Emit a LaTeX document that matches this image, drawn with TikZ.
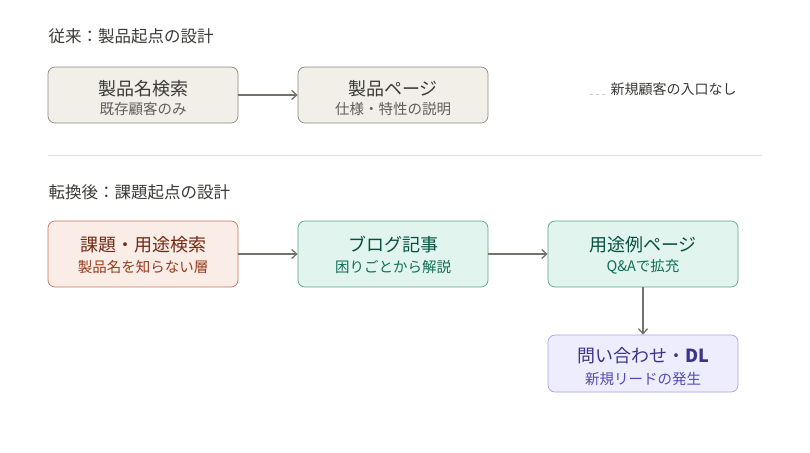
\documentclass[tikz,border=0pt]{standalone}
\usepackage{fontspec}
\setmainfont{Noto Sans CJK JP}
\usetikzlibrary{arrows.meta}
\definecolor{grayfill}{HTML}{F1EFE8}
\definecolor{graystroke}{HTML}{8A8880}
\definecolor{graytext}{HTML}{3A3A38}
\definecolor{graysub}{HTML}{5F5E5A}
\definecolor{coralfill}{HTML}{FAECE7}
\definecolor{coralstroke}{HTML}{C4755B}
\definecolor{coraltext}{HTML}{712B13}
\definecolor{coralsub}{HTML}{993C1D}
\definecolor{tealfill}{HTML}{E1F5EE}
\definecolor{tealstroke}{HTML}{5AA88A}
\definecolor{tealtext}{HTML}{085041}
\definecolor{tealsub}{HTML}{0F6E56}
\definecolor{purpfill}{HTML}{EEEDFE}
\definecolor{purpstroke}{HTML}{A9A3E6}
\definecolor{purptext}{HTML}{3C3489}
\definecolor{purpsub}{HTML}{534AB7}
\definecolor{arrowgray}{HTML}{73726C}
\definecolor{sepgray}{HTML}{E2E1DC}
\tikzset{
  box/.style={rounded corners=7pt, minimum width=190pt, minimum height=56pt, line width=0.7pt},
  tallbox/.style={minimum height=66pt},
  graybox/.style={box, fill=grayfill, draw=graystroke},
  coralbox/.style={box, tallbox, fill=coralfill, draw=coralstroke},
  tealbox/.style={box, tallbox, fill=tealfill, draw=tealstroke},
  purpbox/.style={box, fill=purpfill, draw=purpstroke, minimum height=57pt},
  maintxt/.style={font=\fontsize{18}{20}\selectfont, anchor=center},
  subtxt/.style={font=\fontsize{14.5}{16}\selectfont, anchor=center},
  heading/.style={font=\fontsize{16.5}{19}\selectfont, anchor=west, text=graytext},
  conn/.style={draw=arrowgray, line width=1.3pt, -{Straight Barb[length=5pt,width=9pt,line width=1.3pt]}},
}
\begin{document}
\begin{tikzpicture}[x=1pt,y=-1pt]
\useasboundingbox (0,0) rectangle (810,452);
\fill[white] (0,0) rectangle (810,452);

\node[heading] (h1) at (45,36) {従来：製品起点の設計};
\node[heading] (h2) at (45,192) {転換後：課題起点の設計};

% row 1
\node[graybox] (b1) at (143,95) {};
\node[maintxt, text=graytext] (b1m) at (143,89) {製品名検索};
\node[subtxt, text=graysub] (b1s) at (143,109) {既存顧客のみ};

\node[graybox] (b2) at (393,95) {};
\node[maintxt, text=graytext] (b2m) at (393,89) {製品ページ};
\node[subtxt, text=graysub] (b2s) at (393,109) {仕様・特性の説明};

\draw[conn] (b1.east) -- (b2.west);

\coordinate (d1) at (590,94);
\coordinate (d2) at (606,94);
\draw[draw=sepgray!80!gray, line width=0.8pt, dash pattern=on 3pt off 3pt] (d1) -- (d2);
\node[font=\fontsize{14}{16}\selectfont, text=graytext, anchor=west] (note) at (607,89.5) {新規顧客の入口なし};

% separator
\coordinate (s1) at (48,155);
\coordinate (s2) at (762,155);
\draw[draw=sepgray, line width=0.8pt] (s1) -- (s2);

% row 2
\node[coralbox] (c1) at (143,254) {};
\node[maintxt, text=coraltext] (c1m) at (143,245) {課題・用途検索};
\node[subtxt, text=coralsub] (c1s) at (143,267) {製品名を知らない層};

\node[tealbox] (c2) at (393,254) {};
\node[maintxt, text=tealtext] (c2m) at (393,245) {ブログ記事};
\node[subtxt, text=tealsub] (c2s) at (393,267) {困りごとから解説};

\node[tealbox] (c3) at (643,254) {};
\node[maintxt, text=tealtext] (c3m) at (643,245) {用途例ページ};
\node[subtxt, text=tealsub] (c3s) at (643,267) {Q\&Aで拡充};

\node[purpbox] (c4) at (643,363.5) {};
\node[maintxt, text=purptext] (c4m) at (643,356) {問い合わせ・\textbf{DL}};
\node[subtxt, text=purpsub] (c4s) at (643,379) {新規リードの発生};

\draw[conn] (c1.east) -- (c2.west);
\draw[conn] (c2.east) -- (c3.west);
\draw[conn] (c3.south) -- (c4.north);
\end{tikzpicture}
\end{document}
